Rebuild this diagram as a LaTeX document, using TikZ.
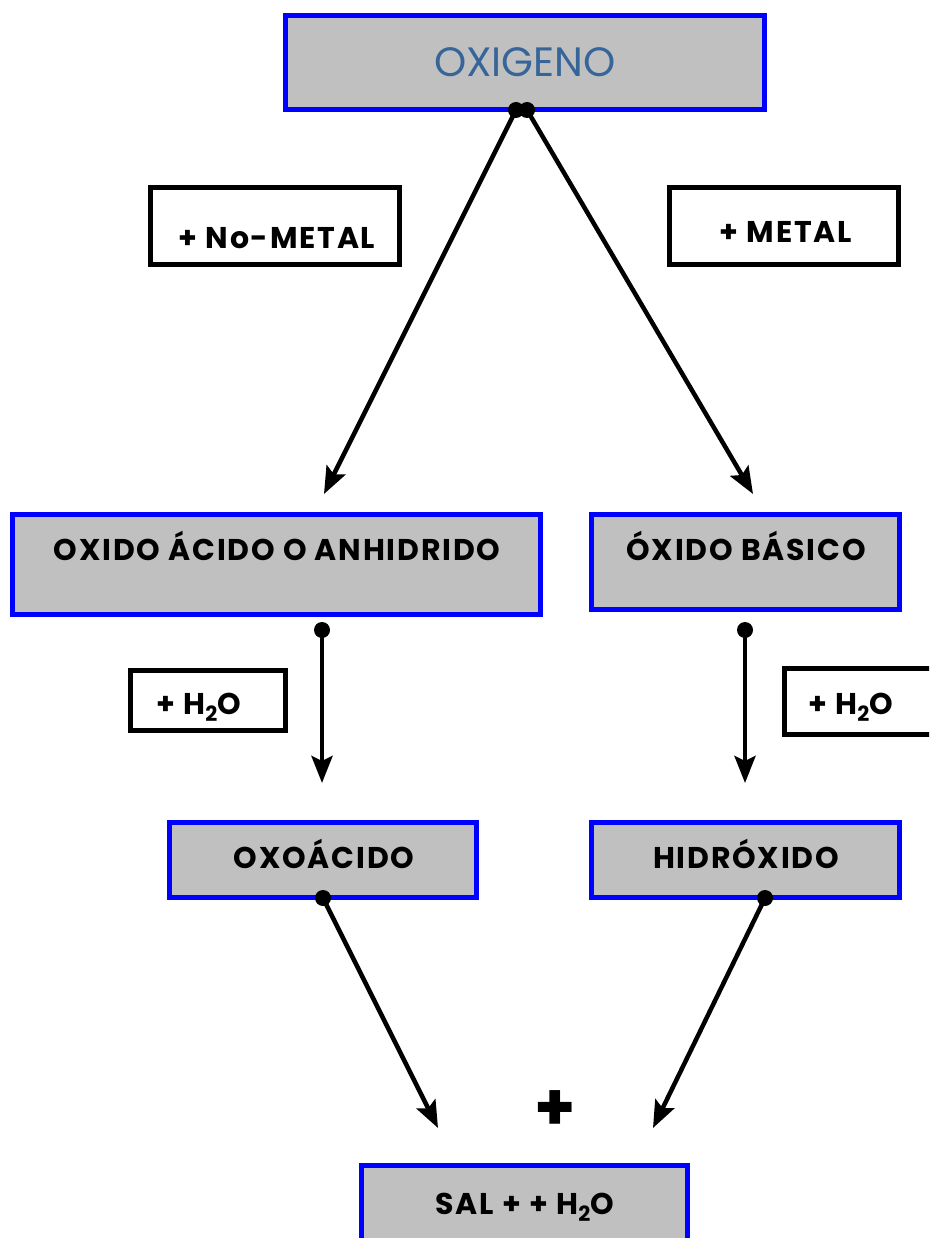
\documentclass[tikz,border=0pt]{standalone}
\usepackage{fontspec}
\setmainfont{Poppins}
\newfontfamily\labfont[LetterSpace=6]{Poppins}
\usetikzlibrary{arrows.meta}
\definecolor{boxgray}{HTML}{C0C0C0}
\definecolor{boxblue}{HTML}{0000FF}
\definecolor{oxiblue}{HTML}{36659A}
\tikzset{
  bluebox/.style={draw=boxblue, fill=boxgray, line width=5pt, inner sep=0pt},
  blackbox/.style={draw=black, fill=white, line width=4.5pt, inner sep=0pt},
  lab/.style={inner sep=0pt, anchor=base, font=\labfont\bfseries\fontsize{30}{34}\selectfont},
  conn/.style={line width=4.5pt, -{Stealth[length=27pt,width=21pt,inset=5pt]}},
  dotc/.style={fill=black, draw=none}
}
\begin{document}
\begin{tikzpicture}[x=1pt,y=-1pt]
\clip (0,0) rectangle (929,1238);
\fill[white] (0,0) rectangle (929,1238);
% boxes
\node[bluebox, minimum width=479pt, minimum height=94pt] (oxi) at (525,62.5) {};
\node[blackbox, minimum width=249pt, minimum height=77pt] (nometal) at (275,226) {};
\node[blackbox, minimum width=229pt, minimum height=77pt] (metal) at (784,226) {};
\node[bluebox, minimum width=528pt, minimum height=100pt] (acido) at (276.5,564.5) {};
\node[bluebox, minimum width=308pt, minimum height=95pt] (basico) at (745.5,562) {};
\node[blackbox, minimum width=155pt, minimum height=60pt] (h2oL) at (208,700.5) {};
\node[blackbox, minimum width=153pt, minimum height=66pt] (h2oR) at (861,701.5) {};
\node[bluebox, minimum width=307pt, minimum height=75pt] (oxoacido) at (323,860) {};
\node[bluebox, minimum width=308pt, minimum height=75pt] (hidroxido) at (745.5,860) {};
\node[bluebox, minimum width=326pt, minimum height=80pt] (sal) at (524.5,1205) {};
% labels
\node[inner sep=0pt, anchor=base, text=oxiblue, font=\fontsize{41}{46}\selectfont] (toxi) at (525,77) {OXIGENO};
\node[lab] (tnometal) at (277,249) {+ No-METAL};
\node[lab] (tmetal) at (786,243) {+ METAL};
\node[lab] (tacido) at (277,560) {OXIDO ÁCIDO O ANHIDRIDO};
\node[lab] (tbasico) at (746,560) {ÓXIDO BÁSICO};
\node[lab] (th2oL) at (199,714) {+ H\textsubscript{2}O};
\node[lab] (th2oR) at (851,714) {+ H\textsubscript{2}O};
\node[lab] (toxoacido) at (324,868) {OXOÁCIDO};
\node[lab] (thidroxido) at (746,868) {HIDRÓXIDO};
\node[lab] (tsal) at (525,1214) {SAL + + H\textsubscript{2}O};
\node[inner sep=0pt, font=\bfseries\fontsize{66}{70}\selectfont] (plus) at (555,1111) {+};
% connector points
\coordinate (s1) at (516,110);
\coordinate (s2) at (527,110);
\coordinate (e1) at (324,494);
\coordinate (e2) at (753,494);
\coordinate (s3) at (322,630);
\coordinate (e3) at (322,783);
\coordinate (s4) at (745,630);
\coordinate (e4) at (745,783);
\coordinate (s5) at (323,898);
\coordinate (e5) at (438,1128);
\coordinate (s6) at (765,898);
\coordinate (e6) at (653,1128);
% connectors
\draw[conn] (s1) -- (e1);
\draw[conn] (s2) -- (e2);
\draw[conn] (s3) -- (e3);
\draw[conn] (s4) -- (e4);
\draw[conn] (s5) -- (e5);
\draw[conn] (s6) -- (e6);
\foreach \p in {s1,s2,s3,s4,s5,s6} \fill[dotc] (\p) circle (8pt);
\end{tikzpicture}
\end{document}
